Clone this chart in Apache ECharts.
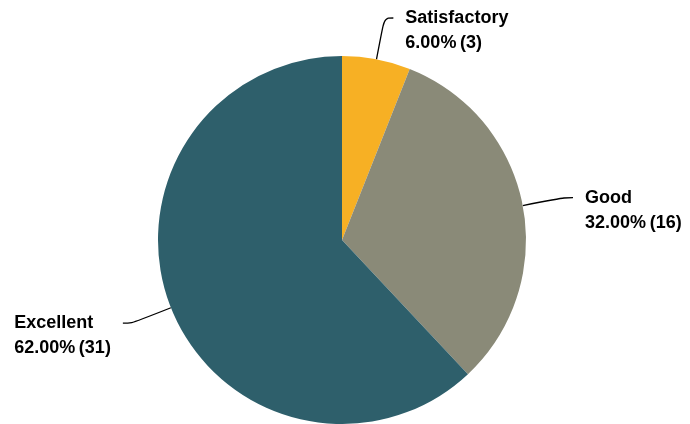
<!DOCTYPE html>
<html><head><meta charset="utf-8">
<script src="https://cdn.jsdelivr.net/npm/echarts@6/dist/echarts.min.js"></script>
<style>html,body{margin:0;padding:0;background:#fff}#c{width:690px;height:424px}</style>
</head><body><div id="c"></div>
<script>
const categories = ['Satisfactory', 'Good', 'Excellent'];
const counts = [3, 16, 31];
const colors = ['#F7B024', '#8A8A78', '#2E5F6B'];

const total = counts.reduce((s, v) => s + v, 0);
const chart = echarts.init(document.getElementById('c'));
chart.setOption({
  animation: false,
  series: [{
    type: 'pie',
    center: [342, 240],
    radius: 184,
    startAngle: 90,
    clockwise: true,
    data: categories.map((n, i) => ({ name: n, value: counts[i], itemStyle: { color: colors[i] } })),
    label: {
      show: true,
      position: 'outside',
      overflow: 'none',
      distanceToLabelLine: 12,
      padding: [25, 0, 0, 0],
      formatter: p => '{a|' + p.name + '}\n{a|' + (p.value / total * 100).toFixed(2) + '%\u2009(' + p.value + ')}',
      rich: {
        a: { fontFamily: 'Liberation Sans, Arial, sans-serif', fontWeight: 'bold', fontSize: 18, lineHeight: 25, color: '#000', align: 'left', overflow: 'none' }
      }
    },
    labelLine: { show: true, length: 42, length2: 9, smooth: 0.4, lineStyle: { color: '#000', width: 1.3 } }
  }]
});
</script></body></html>
